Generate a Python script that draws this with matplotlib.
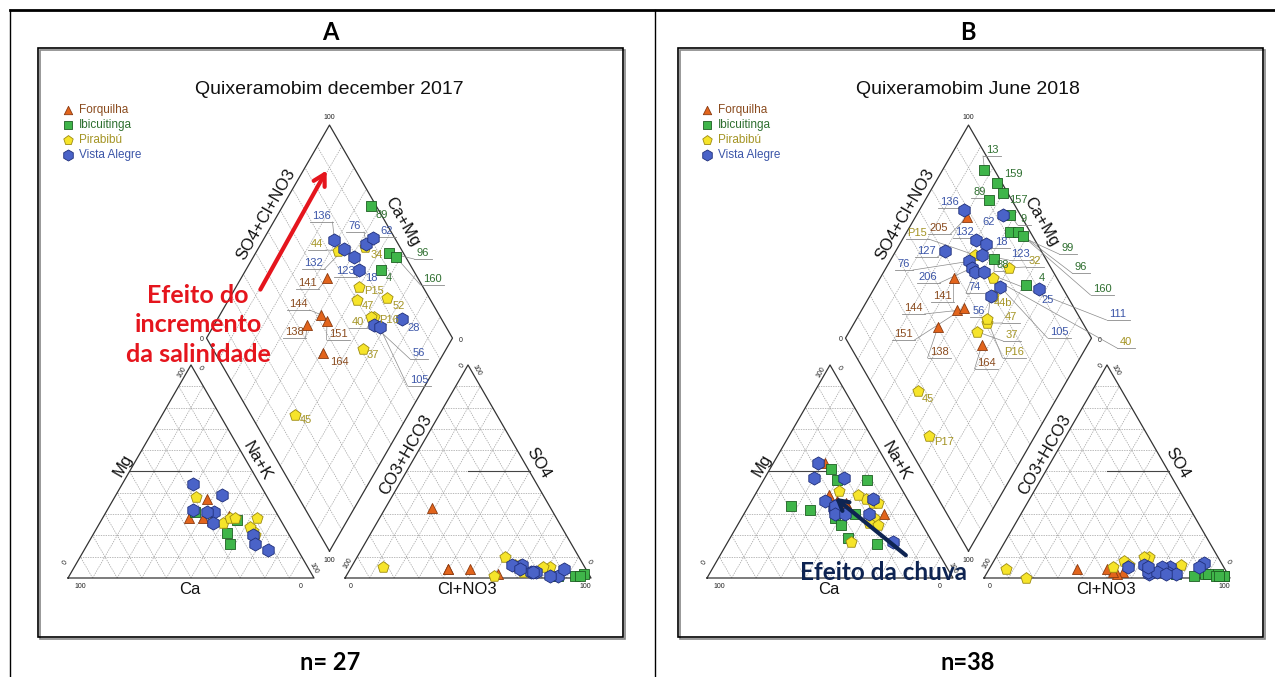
import numpy as np
import matplotlib.pyplot as plt
from matplotlib.patches import Rectangle

plt.rcParams['font.family'] = ['Liberation Sans', 'DejaVu Sans']

# ---- data: percent of cations (Ca, Mg) and anions (Cl+NO3, SO4) ----
groups = ['Forquilha', 'Ibicuitinga', 'Pirabibú', 'Vista Alegre']

# panel A, december 2017
a_ids = ['141', '144', '151', '138', '164',
         '89', '96', '160', '4',
         '44', '34', 'P15', '47', '52', '40', 'P16', '37', '45',
         '136', '76', '62', '132', '18', '123', '28', '56', '105']
a_grp = ['Forquilha'] * 5 + ['Ibicuitinga'] * 4 + ['Pirabibú'] * 9 + ['Vista Alegre'] * 9
a_ca = [37, 31, 28, 25, 20, 33, 25, 26, 18, 29, 27, 24, 20, 14, 9, 14, 14, 18,
        27, 18, 25, 33, 28, 28, 12, 15, 16]
a_mg = [28, 28, 27, 37, 29, 31, 21, 16, 27, 38, 30, 26, 28, 22, 28, 24, 20, 28,
        44, 39, 31, 32, 31, 26, 13, 20, 16]
a_cl = [61, 19, 49, 40, 40, 96, 93, 95, 86, 68, 81, 71, 60, 78, 68, 66, 60, 13,
        69, 86, 87, 74, 76, 75, 83, 65, 69]
a_so4 = [2, 33, 4, 4, 4, 2, 1, 1, 1, 6, 5, 3, 10, 5, 5, 6, 1, 5,
         6, 1, 4, 3, 3, 3, 1, 6, 4]

# panel B, june 2018
b_ids = ['205', '141', '144', '151', '138', '164',
         '13', '159', '157', '89', '9', '99', '96', '160', '88', '4',
         'P15', '32', '40', '44b', '47', '37', 'P16', '45', 'P17',
         '136', '62', '132', '18', '127', '123', '76', '206', '74', '111', '105', '56', '25']
b_grp = ['Forquilha'] * 6 + ['Ibicuitinga'] * 10 + ['Pirabibú'] * 9 + ['Vista Alegre'] * 13
b_ca = [25, 31, 26, 26, 29, 13,
        49, 24, 24, 42, 34, 12, 25, 33, 33, 23,
        26, 33, 17, 15, 18, 13, 21, 19, 18,
        28, 32, 34, 31, 33, 32, 21, 31, 33, 29, 19, 14, 16]
b_mg = [54, 39, 35, 33, 36, 30,
        34, 51, 46, 32, 28, 46, 30, 19, 25, 16,
        41, 17, 37, 35, 28, 35, 26, 39, 25,
        54, 33, 36, 34, 47, 32, 47, 34, 30, 30, 30, 37, 17]
b_cl = [75, 55, 48, 53, 36, 51,
        95, 97, 97, 89, 94, 90, 94, 95, 77, 85,
        62, 77, 70, 60, 53, 50, 56, 17, 7,
        73, 86, 73, 77, 56, 70, 62, 66, 65, 69, 73, 64, 85]
b_so4 = [3, 3, 4, 2, 4, 3,
         1, 1, 1, 2, 2, 2, 1, 1, 2, 1,
         10, 6, 4, 10, 8, 5, 6, 0, 4,
         5, 7, 3, 2, 5, 5, 6, 2, 3, 3, 2, 5, 5]

# ---- styles ----
mk = {'Forquilha': ('^', '#e2641c', '#8a3a10', 52),
      'Ibicuitinga': ('s', '#3fb54a', '#1d5e22', 42),
      'Pirabibú': ('p', '#f6e42a', '#9c8a10', 72),
      'Vista Alegre': ('h', '#4a63c8', '#1f2f7a', 90)}
txtc = {'Forquilha': '#8a4b1e', 'Ibicuitinga': '#2f6f30',
        'Pirabibú': '#a49424', 'Vista Alegre': '#3b55a8'}

# label positions (layout)
a_lab = {'89': (382, 215, 0), '136': (321, 216, 1), '76': (355, 226, 1), '62': (387, 231, 1),
         '44': (317, 244, 1), '34': (377, 255, 0), '96': (423, 253, 1), '132': (313, 263, 1),
         '123': (345, 271, 1), '18': (371, 278, 0), '4': (389, 278, 0), '160': (432, 279, 1),
         '141': (307, 283, 1), 'P15': (374, 291, 0), '52': (399, 306, 0), '47': (368, 306, 0),
         '144': (298, 304, 1), '40': (358, 322, 1), 'P16': (389, 320, 0), '28': (414, 328, 0),
         '138': (294, 332, 1), '151': (338, 334, 1), '56': (419, 353, 1), '37': (373, 355, 0),
         '164': (339, 362, 0), '105': (419, 380, 1), '45': (306, 420, 0)}
b_lab = {'13': (992, 150, 1), '159': (1013, 174, 0), '89': (980, 192, 1), '157': (1018, 200, 0),
         '136': (949, 202, 1), '205': (939, 228, 1), '9': (1024, 219, 1), '62': (989, 222, 0),
         'P15': (917, 233, 1), '132': (964, 232, 1), '18': (1001, 242, 1), '127': (926, 251, 1),
         '123': (1020, 254, 1), '32': (1035, 261, 1), '76': (904, 264, 1), '99': (1068, 248, 1),
         '206': (928, 277, 1), '88': (1003, 265, 1), '96': (1081, 267, 1), '4': (1042, 278, 0),
         '74': (975, 287, 1), '25': (1048, 300, 0), '141': (942, 296, 1), '160': (1102, 289, 1),
         '44b': (1003, 303, 0), '144': (913, 308, 1), '56': (979, 311, 1), '47': (1011, 317, 1),
         '111': (1118, 314, 1), '151': (903, 334, 1), '37': (1012, 335, 1), '105': (1059, 332, 1),
         '40': (1126, 342, 1), '138': (939, 352, 1), 'P16': (1014, 352, 1), '164': (986, 363, 1),
         '45': (928, 399, 0), 'P17': (944, 442, 0)}

S = 246
H = S * np.sqrt(3) / 2
GAP = 31
YB = 578


def geom(ox):
    xc = 68 + ox
    xa = xc + S + GAP
    xd = xc + S + GAP / 2
    yd = YB - GAP / 2 * np.sqrt(3)
    return xc, xa, xd, yd


def cat_xy(ox, ca, mg):
    xc, xa, xd, yd = geom(ox)
    nak = 100 - ca - mg
    return xc + S * (nak + mg / 2) / 100, YB - H * mg / 100


def an_xy(ox, cl, so4):
    xc, xa, xd, yd = geom(ox)
    return xa + S * (cl + so4 / 2) / 100, YB - H * so4 / 100


def dia_xy(ox, ca, mg, cl, so4):
    xc, xa, xd, yd = geom(ox)
    A = (cl + so4) / 100
    C = (ca + mg) / 100
    return xd + S / 2 * (A - C), yd - H * (A + C)


gkw = dict(color='#a0a0a0', lw=0.5, ls=(0, (2, 1.5)), zorder=1)
ekw = dict(color='#333333', lw=0.9, zorder=2)


def draw_piper(ax, ox, title):
    xc, xa, xd, yd = geom(ox)
    for x0 in (xc, xa):
        for i in range(1, 10):
            t = i / 10
            ax.plot([x0 + t * S / 2, x0 + S - t * S / 2], [YB - t * H] * 2, **gkw)
            ax.plot([x0 + t * S, x0 + t * S + (1 - t) * S / 2], [YB, YB - (1 - t) * H], **gkw)
            ax.plot([x0 + t * S, x0 + t * S / 2], [YB, YB - t * H], **gkw)
        ax.plot([x0, x0 + S, x0 + S / 2, x0], [YB, YB, YB - H, YB], **ekw)
    # facies lines
    ax.plot([xc + S / 4, xc + S / 2], [YB - H / 2] * 2, color='#444444', lw=0.8, zorder=2)
    ax.plot([xa + S / 2, xa + 3 * S / 4], [YB - H / 2] * 2, color='#444444', lw=0.8, zorder=2)
    # diamond
    u = np.array([S / 2, -H])
    v = np.array([-S / 2, -H])
    B = np.array([xd, yd])
    for i in range(1, 10):
        t = i / 10
        p0, p1 = B + t * u, B + t * u + v
        ax.plot([p0[0], p1[0]], [p0[1], p1[1]], **gkw)
        p0, p1 = B + t * v, B + t * v + u
        ax.plot([p0[0], p1[0]], [p0[1], p1[1]], **gkw)
    R, T, L = B + u, B + u + v, B + v
    ax.plot([B[0], R[0], T[0], L[0], B[0]], [B[1], R[1], T[1], L[1], B[1]], **ekw)

    # tick numbers
    tk = dict(fontsize=5, color='#222222', ha='center', va='center')
    ax.text(xc + 12, YB + 8, '100', **tk)
    ax.text(xc + S - 13, YB + 8, '0', **tk)
    ax.text(xc - 3, YB - 15, '0', rotation=60, **tk)
    ax.text(xc + S / 2 - 9, YB - H + 7, '100', rotation=60, **tk)
    ax.text(xc + S / 2 + 9, YB - H + 3, '0', rotation=-60, **tk)
    ax.text(xc + S, YB - 10, '100', rotation=-60, **tk)
    ax.text(xa + 6, YB + 8, '0', **tk)
    ax.text(xa + S - 6, YB + 8, '100', **tk)
    ax.text(xa + 3, YB - 15, '100', rotation=60, **tk)
    ax.text(xa + S / 2 - 6, YB - H + 1, '0', rotation=60, **tk)
    ax.text(xa + S / 2 + 9, YB - H + 5, '100', rotation=-60, **tk)
    ax.text(xa + S - 2, YB - 16, '0', rotation=-60, **tk)
    ax.text(T[0], T[1] - 8, '100', **tk)
    ax.text(R[0] + 8, R[1] + 2, '0', **tk)
    ax.text(L[0] - 5, L[1] + 1, '0', **tk)
    ax.text(B[0], B[1] + 9, '100', **tk)

    # axis names
    lk = dict(fontsize=12, color='#111111', ha='center', va='center')
    ax.text(266 + ox, 214, 'SO4+Cl+NO3', rotation=60, **lk)
    ax.text(402 + ox, 222, 'Ca+Mg', rotation=-60, **lk)
    ax.text(257 + ox, 461, 'Na+K', rotation=-60, **lk)
    ax.text(406 + ox, 455, 'CO3+HCO3', rotation=60, **lk)
    ax.text(123 + ox, 465, 'Mg', rotation=60, **lk)
    ax.text(538 + ox, 463, 'SO4', rotation=-60, **lk)
    ax.text(190 + ox, 590, 'Ca', **lk)
    ax.text(467 + ox, 590, 'Cl+NO3', **lk)

    ax.text(329 + ox, 89, title, fontsize=14, ha='center', va='center', color='#111111')

    # legend
    for i, g in enumerate(groups):
        m, fc, ec, s = mk[g]
        ax.scatter(68 + ox, 110 + 15 * i, marker=m, s=s * 0.7, c=fc, edgecolors=ec,
                   linewidths=0.6, zorder=5)
        ax.text(79 + ox, 110 + 15 * i, g, fontsize=8.5, color=txtc[g], va='center', ha='left')


def draw_samples(ax, ox, ids, grp, ca, mg, cl, so4, labels):
    for k in range(len(ids)):
        g = grp[k]
        m, fc, ec, s = mk[g]
        pts = [cat_xy(ox, ca[k], mg[k]), an_xy(ox, cl[k], so4[k]),
               dia_xy(ox, ca[k], mg[k], cl[k], so4[k])]
        for (x, y) in pts:
            ax.scatter(x, y, marker=m, s=s, c=fc, edgecolors=ec, linewidths=0.6, zorder=6)
        px, py = pts[2]
        lx, ly, ul = labels[ids[k]]
        ax.text(lx, ly, ids[k], fontsize=8, color=txtc[g], ha='center', va='center', zorder=7)
        if ul:
            w = len(ids[k]) * 5 + 8
            ax.plot([lx - w / 2, lx + w / 2], [ly + 6, ly + 6], color='#8a8a8a', lw=0.6, zorder=3)
            ex = lx - w / 2 if abs(px - (lx - w / 2)) < abs(px - (lx + w / 2)) else lx + w / 2
            ax.plot([ex, px], [ly + 6, py], color='#8a8a8a', lw=0.5, zorder=3)


fig = plt.figure(figsize=(12.75, 6.77), dpi=100)
ax = fig.add_axes([0, 0, 1, 1])
ax.set_xlim(0, 1275)
ax.set_ylim(677, 0)
ax.axis('off')

# table lines
ax.plot([10, 1275], [10, 10], color='black', lw=2)
ax.plot([10, 10], [10, 677], color='black', lw=1)
ax.plot([655, 655], [10, 677], color='black', lw=1)

for x0 in (38, 678):
    ax.add_patch(Rectangle((x0 + 2, 50), 585, 589, fill=False, ec='#888888', lw=1.2))
    ax.add_patch(Rectangle((x0, 48), 585, 589, fill=False, ec='black', lw=1.2))

hk = dict(fontsize=17, fontweight='bold', family=['Lato', 'DejaVu Sans'], ha='center', va='center')
ax.text(330, 32, 'A', **hk)
ax.text(968, 32, 'B', **hk)
ax.text(330, 662, 'n= 27', **hk)
ax.text(968, 662, 'n=38', **hk)

draw_piper(ax, 0, 'Quixeramobim december 2017')
draw_piper(ax, 639, 'Quixeramobim June 2018')
draw_samples(ax, 0, a_ids, a_grp, a_ca, a_mg, a_cl, a_so4, a_lab)
draw_samples(ax, 639, b_ids, b_grp, b_ca, b_mg, b_cl, b_so4, b_lab)

# annotations
ax.annotate('', xy=(328, 168), xytext=(259, 292),
            arrowprops=dict(arrowstyle='->,head_length=0.8,head_width=0.45', color='#e5151d', lw=3),
            zorder=8)
ax.text(198, 325, 'Efeito do\nincremento\nda salinidade', fontsize=18, fontweight='bold',
        family=['Lato', 'DejaVu Sans'], color='#e5151d', ha='center', va='center',
        linespacing=1.32, zorder=8)
ax.annotate('', xy=(833, 496), xytext=(908, 557),
            arrowprops=dict(arrowstyle='->,head_length=0.7,head_width=0.4', color='#0e2452', lw=3),
            zorder=8)
ax.text(884, 573, 'Efeito da chuva', fontsize=17.5, fontweight='bold',
        family=['Lato', 'DejaVu Sans'], color='#0e2452', ha='center', va='center', zorder=8)

fig.savefig('out.png', dpi=100)
